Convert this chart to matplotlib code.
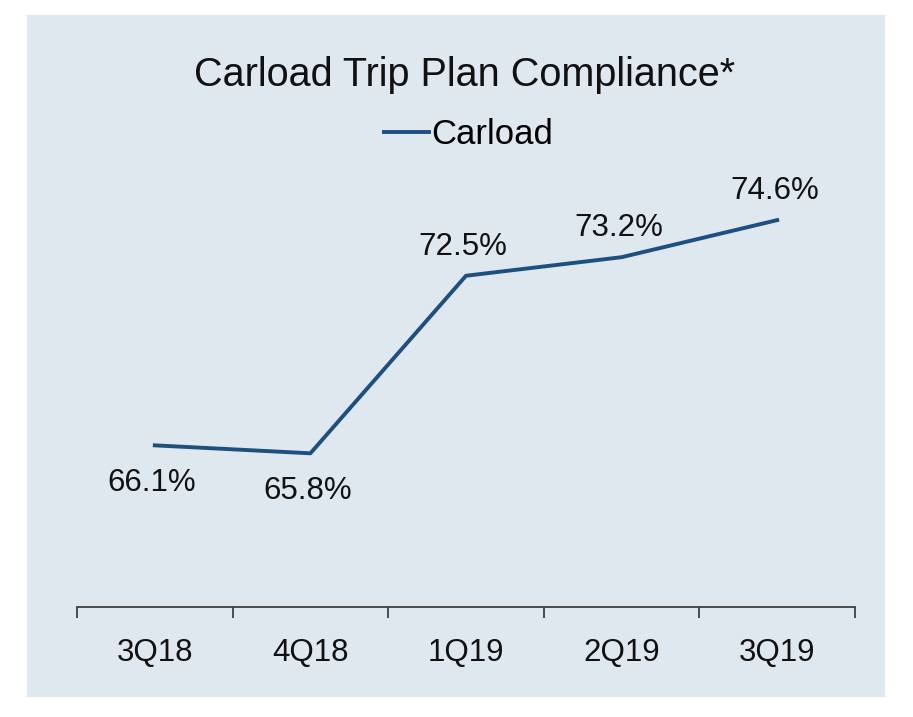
import matplotlib.pyplot as plt
from matplotlib.patches import Rectangle

plt.rcParams['font.family'] = ['Liberation Sans', 'DejaVu Sans']

quarters = ['3Q18', '4Q18', '1Q19', '2Q19', '3Q19']
carload = [66.1, 65.8, 72.5, 73.2, 74.6]
# label below the point for the low ones, above for the rest
label_below = [True, True, False, False, False]

line_color = '#1d4f80'
panel_color = '#dfe7ef'

fig = plt.figure(figsize=(9.13, 7.17), dpi=100)
fig.patch.set_facecolor('white')
fig.add_artist(Rectangle((27 / 913, 20 / 717), 858 / 913, 682 / 717,
                         transform=fig.transFigure, facecolor=panel_color,
                         edgecolor='none', zorder=0))

ax = fig.add_axes([77 / 913, 110 / 717, 778 / 913, 424 / 717])
ax.set_facecolor('none')

xs = list(range(len(quarters)))
ax.plot(xs, carload, color=line_color, lw=2.8, label='Carload')

for x, v, below in zip(xs, carload, label_below):
    ax.annotate(f'{v:.1f}%', (x, v), xytext=(-2, -27 if below else 21),
                textcoords='offset points', ha='center', va='center',
                fontsize=22.5, color='#111111')

ax.set_xlim(-0.5, len(quarters) - 0.5)
ax.set_ylim(60, 76)

for s in ['top', 'right', 'left']:
    ax.spines[s].set_visible(False)
ax.spines['bottom'].set_color('#404040')
ax.spines['bottom'].set_linewidth(1.3)

ax.set_yticks([])
ax.set_xticks([i - 0.5 for i in range(len(quarters) + 1)])
ax.set_xticklabels([])
ax.tick_params(axis='x', which='major', direction='out', length=8,
               width=1.3, color='#404040')
ax.set_xticks(xs, minor=True)
ax.set_xticklabels(quarters, minor=True, fontsize=22.5, color='#111111')
ax.tick_params(axis='x', which='minor', length=0, pad=22)

fig.text(0.509, 0.895, 'Carload Trip Plan Compliance*', ha='center',
         va='center', fontsize=28.5, color='#111111')
fig.legend(loc='center', bbox_to_anchor=(0.513, 0.812), frameon=False,
           fontsize=25, handlelength=1.3, handletextpad=0.05)

fig.savefig('out.png', dpi=100)
